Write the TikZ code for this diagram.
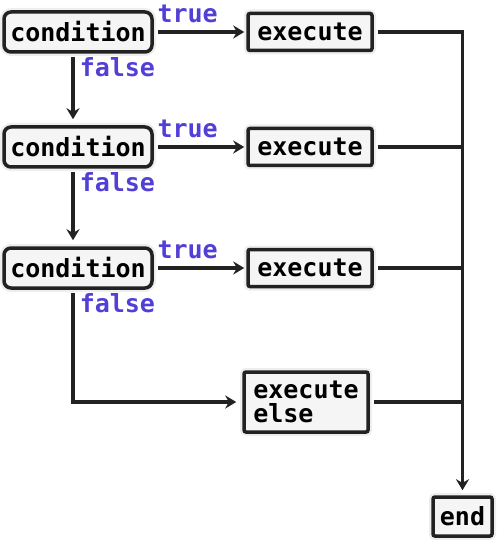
\documentclass[tikz,border=0pt]{standalone}
\usepackage{fontspec}
\setmonofont{DejaVu Sans Mono}
\usetikzlibrary{positioning,arrows.meta}
\definecolor{boxfill}{RGB}{245,245,245}
\definecolor{halo}{RGB}{238,238,238}
\definecolor{branchblue}{RGB}{82,64,214}
\definecolor{ink}{RGB}{34,34,34}
\tikzset{
    block/.style = {
        draw = ink,
        line width = 3.5pt,
        fill = boxfill,
        font = \ttfamily\bfseries\fontsize{25}{24}\selectfont,
        inner sep = 2pt,
        preaction = {draw = halo, line width = 8pt},
        },
    cond/.style = {
        block,
        rounded corners = 7pt,
        minimum width = 148pt,
        minimum height = 40pt,
        },
    exec/.style = {
        block,
        rounded corners = 2pt,
        minimum width = 124pt,
        minimum height = 37pt,
        },
    branch/.style = {
        text = branchblue,
        font = \ttfamily\bfseries\fontsize{25}{24}\selectfont,
        inner sep = 2pt,
        },
    true label/.style = {
        branch, above right, pos = 0, yshift = 5pt,
        },
    false label/.style = {
        branch, below right, pos = 0, xshift = 3pt,
        },
    flow/.style = {
        draw = ink,
        line width = 3.5pt,
        },
}

\begin{document}
\begin{tikzpicture}[->, >={Stealth[length=11pt, width=13pt]}, every edge/.append style={flow}]
    \useasboundingbox (0,0) rectangle (496pt,-540pt);

    \node[cond] (c1) at (78pt,-32pt) {condition};
    \node[cond, below=71.5pt of c1] (c2) {condition};
    \node[cond, below=77.5pt of c2] (c3) {condition};
    \node[exec, right=92.5pt of c1] (e1) {execute};
    \node[exec, right=92.5pt of c2] (e2) {execute};
    \node[exec, right=92.5pt of c3] (e3) {execute};
    \node[exec, minimum height=60pt, align=left, below=82pt of e3, xshift=-4pt] (e4) {execute\\else};
    \node[exec, minimum width=59pt, minimum height=39pt, below right=61.5pt and 61.5pt of e4] (stop) {end};

    % true branches
    \path (c1) edge[shorten <=4pt, shorten >=2pt] node[true label] {true} (e1);
    \path (c2) edge[shorten <=4pt, shorten >=2pt] node[true label] {true} (e2);
    \path (c3) edge[shorten <=4pt, shorten >=2pt] node[true label] {true} (e3);

    % false branches
    \path ([xshift=-5pt]c1.south) edge[shorten <=3pt, shorten >=6pt] node[false label] {false} ([xshift=-5pt]c2.north);
    \path ([xshift=-5pt]c2.south) edge[shorten <=3pt, shorten >=6pt] node[false label] {false} ([xshift=-5pt]c3.north);
    \draw[flow, shorten <=3pt, shorten >=6pt] ([xshift=-5pt]c3.south) |- node[false label] {false} (e4);

    % join to end
    \draw[flow, shorten <=4pt, shorten >=5pt] (e1) -| (stop);
    \path (e2) edge[-, shorten <=4pt] (e2 -| stop);
    \path (e3) edge[-, shorten <=4pt] (e3 -| stop);
    \path (e4) edge[-, shorten <=4pt] (e4 -| stop);
\end{tikzpicture}
\end{document}
